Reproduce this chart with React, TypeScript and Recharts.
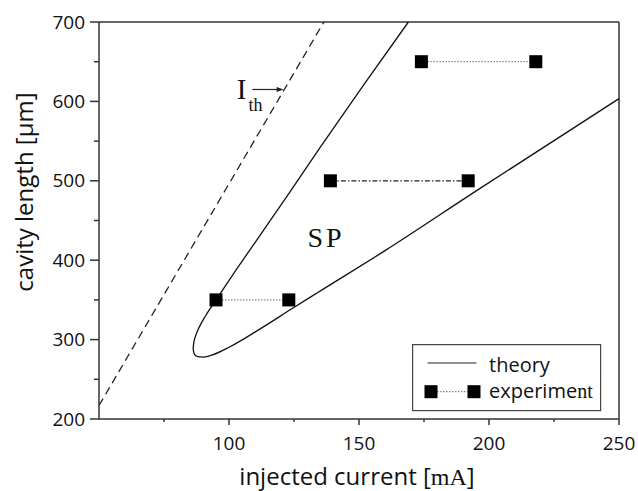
import React from 'react';
import {
  ComposedChart,
  Line,
  Scatter,
  XAxis,
  YAxis,
  ReferenceLine,
  ReferenceDot,
  Legend,
} from 'recharts';

// threshold current I_th (dashed)
const thresholdCurrent = [50, 136.5];
const thresholdLength = [217, 700];

// theory boundary of the SP region, split at its leftmost point
const upperCurrent = [86.2, 86.4, 87.2, 88.6, 91.0, 95.0, 103.2, 110.6, 122.2, 134.6, 151.6, 169.0];
const upperLength = [288, 295, 305, 316, 330, 350, 390, 425, 480, 540, 620, 700];
const lowerCurrent = [86.2, 86.8, 88.0, 90.0, 93.0, 100.4, 113.2, 124.0, 134.0, 160.0, 194.5, 250.0];
const lowerLength = [288, 281, 278.5, 278, 280, 291, 316, 338.5, 359, 412, 486, 603.5];

// measured SP range for each cavity length
const expLength = [350, 500, 650];
const expLowCurrent = [95, 139, 174];
const expHighCurrent = [123, 192, 218];
const expDash = ['1.5 1.5', '5 2 1.5 2', '1.5 1.5'];
const expStroke = ['#8a8a8a', '#222', '#8a8a8a'];

const xTicks = [75, 100, 125, 150, 175, 200, 225, 250];
const xMajorTicks = [100, 150, 200, 250];
const yTicks = [200, 250, 300, 350, 400, 450, 500, 550, 600, 650, 700];
const yMajorTicks = [200, 300, 400, 500, 600, 700];

const SANS = '"Open Sans", sans-serif';
const SERIF = '"Liberation Serif", serif';
const AXIS = '#333';

const zip = (xs: number[], ys: number[]) => xs.map((x, i) => ({ x, y: ys[i] }));

const thresholdData = zip(thresholdCurrent, thresholdLength);
const upperData = zip(upperCurrent, upperLength);
const lowerData = zip(lowerCurrent, lowerLength);
const expData = expLength.map((y, i) => [
  { x: expLowCurrent[i], y },
  { x: expHighCurrent[i], y },
]);

const XTick = ({ x, y, payload }: any) => {
  const major = xMajorTicks.includes(payload.value);
  return (
    <g>
      <line x1={x} x2={x} y1={y} y2={y + (major ? 6 : 3)} stroke={AXIS} strokeWidth={1.5} />
      {major && (
        <text x={x} y={y + 31} textAnchor="middle" fontFamily={SANS} fontSize={19} fill="#111">
          {payload.value}
        </text>
      )}
    </g>
  );
};

const YTick = ({ x, y, payload }: any) => {
  const major = yMajorTicks.includes(payload.value);
  return (
    <g>
      <line x1={x - (major ? 9 : 5)} x2={x} y1={y} y2={y} stroke={AXIS} strokeWidth={1.5} />
      {major && (
        <text x={x - 14} y={y + 6.5} textAnchor="end" fontFamily={SANS} fontSize={19} fill="#111">
          {payload.value}
        </text>
      )}
    </g>
  );
};

const XTitle = ({ viewBox }: any) => (
  <text
    x={viewBox.x + viewBox.width / 2 - 2}
    y={viewBox.y + 66}
    textAnchor="middle"
    fontFamily={SANS}
    fontSize={24}
    fill="#111"
  >
    injected current [<tspan fontFamily={SERIF}>mA</tspan>]
  </text>
);

const YTitle = ({ viewBox }: any) => {
  const x = viewBox.x + viewBox.width - 66;
  const y = viewBox.y + 170;
  return (
    <text
      x={x}
      y={y}
      transform={`rotate(-90, ${x}, ${y})`}
      textAnchor="middle"
      fontFamily={SANS}
      fontSize={24}
      fill="#111"
    >
      cavity length [μm]
    </text>
  );
};

const Square = ({ cx, cy }: any) => (
  <rect x={cx - 6.5} y={cy - 6.5} width={13} height={13} fill="#000" />
);

const IthLabel = ({ cx, cy }: any) => (
  <text x={cx} y={cy} fontFamily={SERIF} fill="#111">
    <tspan fontSize={29}>I</tspan>
    <tspan fontSize={18} dx={2} dy={12.5}>th</tspan>
  </text>
);

const Arrow = ({ x1, y1, x2, y2 }: any) => (
  <g>
    <line x1={x1} y1={y1} x2={x2 - 5} y2={y2} stroke="#222" strokeWidth={1.2} />
    <polygon points={`${x2},${y2} ${x2 - 7},${y2 - 2.5} ${x2 - 7},${y2 + 2.5}`} fill="#222" />
  </g>
);

const SPLabel = ({ cx, cy }: any) => (
  <text x={cx} y={cy} textAnchor="middle" fontFamily={SERIF} fontSize={28} letterSpacing={3} fill="#111">
    SP
  </text>
);

const renderLegend = () => (
  <svg width={190} height={68} style={{ display: 'block' }}>
    <rect x={0.6} y={0.6} width={188} height={66} fill="#fff" stroke="#444" strokeWidth={1.2} />
    <line x1={15.5} x2={64.5} y1={19} y2={19} stroke="#222" strokeWidth={1.2} />
    <text x={77} y={27.5} fontFamily={SANS} fontSize={20} fill="#111">
      theory
    </text>
    <line x1={25} x2={56} y1={47.7} y2={47.7} stroke="#666" strokeWidth={1} strokeDasharray="1.5 1.5" />
    <rect x={12.5} y={41.2} width={13} height={13} fill="#000" />
    <rect x={55.5} y={41.2} width={13} height={13} fill="#000" />
    <text x={77} y={54} fontFamily={SANS} fontSize={20} fill="#111">
      experime<tspan fontFamily={SERIF}>nt</tspan>
    </text>
  </svg>
);

export default function App() {
  return (
    // pinned to the window so the body margin adds no scroll area
    <div style={{ position: 'fixed', left: 0, top: 0, width: 638, height: 491, overflow: 'hidden', background: '#fff' }}>
      <ComposedChart width={638} height={491} margin={{ top: 22, right: 19, bottom: 12, left: 19 }}>
        <XAxis
          dataKey="x"
          type="number"
          domain={[50, 250]}
          ticks={xTicks}
          interval={0}
          height={60}
          tickSize={0}
          tickMargin={0}
          tickLine={false}
          tick={<XTick />}
          axisLine={{ stroke: AXIS, strokeWidth: 1.5 }}
          label={XTitle}
        />
        <YAxis
          type="number"
          domain={[200, 700]}
          ticks={yTicks}
          interval={0}
          width={80}
          tickSize={0}
          tickMargin={0}
          tickLine={false}
          tick={<YTick />}
          axisLine={{ stroke: AXIS, strokeWidth: 1.5 }}
          label={YTitle}
        />
        <ReferenceLine y={700} stroke={AXIS} strokeWidth={1.5} />
        <ReferenceLine x={250} stroke={AXIS} strokeWidth={1.5} />

        <Line
          data={thresholdData}
          dataKey="y"
          type="linear"
          stroke="#222"
          strokeWidth={1.3}
          strokeDasharray="8 5"
          dot={false}
          isAnimationActive={false}
          legendType="none"
        />
        <Line
          data={upperData}
          dataKey="y"
          type="monotoneX"
          stroke="#111"
          strokeWidth={1.3}
          dot={false}
          isAnimationActive={false}
          legendType="none"
        />
        <Line
          data={lowerData}
          dataKey="y"
          type="monotoneX"
          stroke="#111"
          strokeWidth={1.3}
          dot={false}
          isAnimationActive={false}
          legendType="none"
        />
        {expData.map((d, i) => (
          <Scatter
            key={expLength[i]}
            data={d}
            dataKey="y"
            shape={<Square />}
            line={{ stroke: expStroke[i], strokeWidth: 1.2, strokeDasharray: expDash[i] }}
            isAnimationActive={false}
            legendType="none"
          />
        ))}

        <ReferenceLine segment={[{ x: 109, y: 615 }, { x: 121, y: 615 }]} shape={<Arrow />} />
        <ReferenceDot x={103} y={603.5} r={0} shape={<IthLabel />} />
        <ReferenceDot x={137.3} y={416.6} r={0} shape={<SPLabel />} />

        <Legend
          layout="horizontal"
          verticalAlign="middle"
          align="center"
          wrapperStyle={{ left: 412, top: 344, width: 190, height: 68 }}
          content={renderLegend}
        />
      </ComposedChart>
    </div>
  );
}
